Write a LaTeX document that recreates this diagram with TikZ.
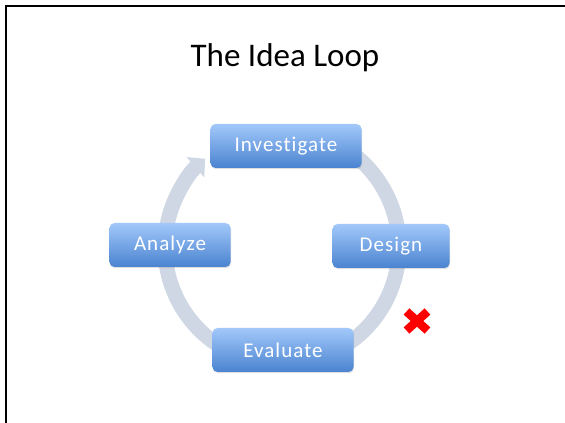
\documentclass[tikz,border=0pt]{standalone}
\usepackage{fontspec}
\setmainfont{Carlito}
\usetikzlibrary{arrows.meta, shadows}

\definecolor{ringgray}{HTML}{CFD7E5}
\definecolor{boxtop}{HTML}{A2C8FA}
\definecolor{boxbottom}{HTML}{4A83D0}

\begin{document}
\begin{tikzpicture}[x=1pt, y=1pt,
    stage/.style={rounded corners=5pt, top color=boxtop, bottom color=boxbottom,
        text=white, minimum height=44pt, inner sep=0pt,
        font=\fontsize{21}{25}\selectfont\addfontfeature{LetterSpace=5, Ligatures=NoCommon},
        drop shadow={opacity=0.25, shadow xshift=0.6pt, shadow yshift=-1.2pt}}]
    \useasboundingbox (0,0) rectangle (565,423);
    % slide frame, only the top and left edges show
    \draw[line width=2pt] (6,-20) rectangle (600,417);

    \node[font=\fontsize{33}{39}\selectfont] (title) at (285,365) {The Idea Loop};

    \coordinate (hub) at (282,176);

    % the loop itself, drawn first so the boxes sit on it
    \draw[ringgray, line width=15pt, -{Triangle[width=26pt, length=13pt]}]
        (hub) ++(70:117) arc[start angle=70, end angle=-229, radius=117];

    \node[stage, minimum width=151pt] (investigate) at ([shift={(4,101)}]hub) {Investigate};
    \node[stage, minimum width=117pt] (design) at ([shift={(109,1)}]hub) {Design};
    \node[stage, minimum width=121pt] (analyze) at ([shift={(-112,2)}]hub) {Analyze};
    \node[stage, minimum width=141pt] (evaluate) at ([shift={(1,-103)}]hub) {Evaluate};

    % red cross beside the Design--Evaluate step
    \node[minimum size=30pt] (cross) at (417,102) {};
    \draw[red, line width=8.5pt] (cross.center) ++(-10.5,-9.5) -- ++(21,19)
        (cross.center) ++(-10.5,9.5) -- ++(21,-19);
\end{tikzpicture}
\end{document}
